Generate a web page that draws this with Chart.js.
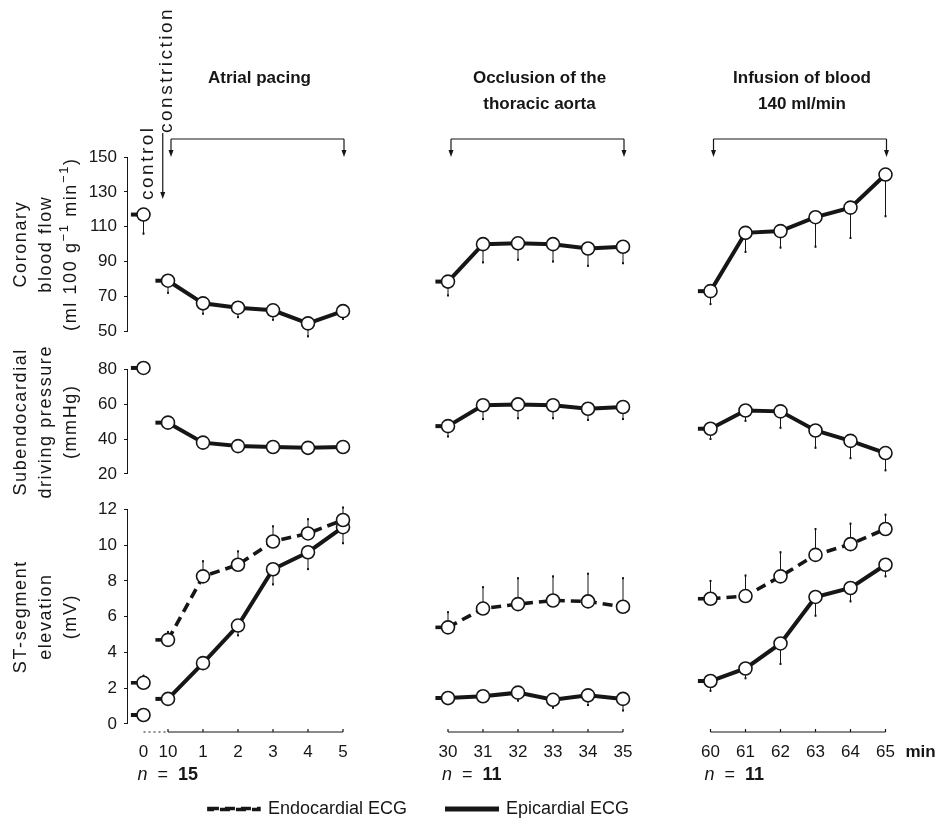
<!DOCTYPE html>
<html>
<head>
<meta charset="utf-8">
<title>Coronary flow, driving pressure and ST-segment elevation</title>
<script src="https://cdn.jsdelivr.net/npm/chart.js@4.4.1/dist/chart.umd.min.js"></script>
<style>
    html, body { margin: 0; padding: 0; background: #fff; }
    #wrap { width: 948px; height: 828px; }
</style>
</head>
<body>
<div id="wrap"><canvas id="figure" width="948" height="828"></canvas></div>
<script>
// x-axis tick labels (min); '0' is the control reading, '10' is 10 s after constriction
const controlLabel = '0';
const pacingLabels = ['10', '1', '2', '3', '4', '5'];
const occlusionLabels = ['30', '31', '32', '33', '34', '35'];
const infusionLabels = ['60', '61', '62', '63', '64', '65'];
const groupN = [15, 11, 11];
const groupTitles = [['Atrial pacing'], ['Occlusion of the', 'thoracic aorta'], ['Infusion of blood', '140 ml/min']];

// y tick labels
const flowTicks = [50, 70, 90, 110, 130, 150];
const pressTicks = [20, 40, 60, 80];
const stTicks = [0, 2, 4, 6, 8, 10, 12];

// Coronary blood flow (ml 100 g-1 min-1), mean and SD
const flowControl = 117;
const flowControlSd = 11.5;
const flowPacing = [79, 66, 63.5, 62, 54.5, 61.5];
const flowPacingSd = [7.5, 6.5, 6, 6, 8, 5];
const flowOcclusion = [78.5, 100, 100.5, 100, 97.5, 98.5];
const flowOcclusionSd = [8.5, 11, 10, 10.5, 10.5, 10];
const flowInfusion = [73, 106.5, 107.5, 115.5, 121, 140];
const flowInfusionSd = [8, 11.5, 10, 17.5, 18, 24.5];

// Subendocardial driving pressure (mmHg)
const pressControl = 81;
const pressControlSd = 3;
const pressPacing = [49.5, 38, 36, 35.5, 35, 35.5];
const pressPacingSd = [3, 3, 3, 2.5, 3, 2.5];
const pressOcclusion = [47.5, 59.5, 60, 59.5, 57.5, 58.5];
const pressOcclusionSd = [6.5, 8.5, 8.5, 8, 7, 7.5];
const pressInfusion = [46, 56.5, 56, 45, 39, 32];
const pressInfusionSd = [6.5, 6.5, 10, 10.5, 10.5, 10.5];

// ST-segment elevation (mV), endocardial ECG (SD drawn upwards)
const endoControl = 2.3;
const endoControlSd = 0.45;
const endoPacing = [4.7, 8.25, 8.9, 10.2, 10.65, 11.4];
const endoPacingSd = [0.5, 0.9, 0.8, 0.9, 0.85, 0.75];
const endoOcclusion = [5.4, 6.45, 6.7, 6.9, 6.85, 6.55];
const endoOcclusionSd = [0.9, 1.25, 1.5, 1.4, 1.6, 1.65];
const endoInfusion = [7.0, 7.15, 8.25, 9.45, 10.05, 10.9];
const endoInfusionSd = [1.05, 1.2, 1.4, 1.5, 1.2, 0.85];

// ST-segment elevation (mV), epicardial ECG (SD drawn downwards)
const epiControl = 0.5;
const epiControlSd = 0.3;
const epiPacing = [1.4, 3.4, 5.5, 8.65, 9.6, 11.0];
const epiPacingSd = [0.3, 0.3, 0.6, 0.9, 1.0, 0.95];
const epiOcclusion = [1.45, 1.55, 1.75, 1.35, 1.6, 1.4];
const epiOcclusionSd = [0.4, 0.3, 0.5, 0.5, 0.6, 0.7];
const epiInfusion = [2.4, 3.1, 4.5, 7.1, 7.6, 8.9];
const epiInfusionSd = [0.6, 0.6, 1.2, 1.1, 0.8, 0.7];

// y axis titles, one entry per line; '^' parts are superscripts
const flowTitle = [['Coronary'], ['blood flow'], ['(ml 100 g', '^\u22121', ' min', '^\u22121', ')']];
const pressTitle = [['Subendocardial'], ['driving pressure'], ['(mmHg)']];
const stTitle = [['ST-segment'], ['elevation'], ['(mV)']];

// layout of the broken time axis (in minute steps)
const controlPos = -0.7;
const groupStart = [0, 8, 15.5];
const groupLabels = [pacingLabels, occlusionLabels, infusionLabels];
const stubLength = 0.36;

const ink = '#161616';
const fontFamily = "'Liberation Sans', Arial, Helvetica, sans-serif";

// tick position -> label
const xTickLabel = new Map();
xTickLabel.set(controlPos, controlLabel);
groupLabels.forEach((labels, g) => labels.forEach((lab, i) => xTickLabel.set(groupStart[g] + i, lab)));

// one dataset per measured curve; null points break the line between groups
function buildSeries(ctrl, ctrlSd, groups, sds) {
    const data = [];
    const sd = [];
    data.push({x: controlPos, y: ctrl});
    sd.push(ctrlSd);
    groups.forEach((vals, g) => {
        data.push({x: groupStart[g] - 0.5, y: null});
        sd.push(null);
        vals.forEach((v, i) => {
            data.push({x: groupStart[g] + i, y: v});
            sd.push(sds[g][i]);
        });
    });
    return {data, sd};
}

const flow = buildSeries(flowControl, flowControlSd, [flowPacing, flowOcclusion, flowInfusion], [flowPacingSd, flowOcclusionSd, flowInfusionSd]);
const press = buildSeries(pressControl, pressControlSd, [pressPacing, pressOcclusion, pressInfusion], [pressPacingSd, pressOcclusionSd, pressInfusionSd]);
const endo = buildSeries(endoControl, endoControlSd, [endoPacing, endoOcclusion, endoInfusion], [endoPacingSd, endoOcclusionSd, endoInfusionSd]);
const epi = buildSeries(epiControl, epiControlSd, [epiPacing, epiOcclusion, epiInfusion], [epiPacingSd, epiOcclusionSd, epiInfusionSd]);

function lineStyle(extra) {
    return Object.assign({
        borderColor: ink,
        backgroundColor: '#fff',
        borderWidth: 4,
        tension: 0,
        spanGaps: false,
        pointRadius: 6.5,
        pointHoverRadius: 6.5,
        pointBorderWidth: 1.6,
        pointBackgroundColor: '#fff',
        pointBorderColor: ink
    }, extra);
}

function fixedTicks(values) {
    return function(scale) {
        scale.ticks = values.map(v => ({value: v}));
    };
}

function yAxis(ticks, min, max, weight, title) {
    return {
        type: 'linear',
        position: 'left',
        stack: 'panels',
        stackWeight: weight,
        min: min,
        max: max,
        panelTitle: title,
        afterBuildTicks: fixedTicks(ticks),
        afterFit: function(scale) { scale.width = 128; },
        border: {display: false},
        grid: {drawOnChartArea: false, drawTicks: true, tickLength: 4, color: ink, lineWidth: 1},
        ticks: {autoSkip: false, color: ink, padding: 7, font: {family: fontFamily, size: 17}}
    };
}

function arrowDown(ctx, x, y0, y1) {
    ctx.beginPath();
    ctx.moveTo(x, y0);
    ctx.lineTo(x, y1 - 5);
    ctx.stroke();
    ctx.beginPath();
    ctx.moveTo(x - 2.5, y1 - 7);
    ctx.lineTo(x + 2.5, y1 - 7);
    ctx.lineTo(x, y1);
    ctx.closePath();
    ctx.fill();
}

// draws one rotated title line made of plain and superscript parts, centred on (x, y)
function drawRotatedLine(ctx, parts, x, y) {
    const base = '18px ' + fontFamily;
    const sup = '13px ' + fontFamily;
    let total = 0;
    parts.forEach(p => {
        ctx.font = p[0] === '^' ? sup : base;
        total += ctx.measureText(p[0] === '^' ? p.slice(1) : p).width;
    });
    ctx.save();
    ctx.translate(x, y);
    ctx.rotate(-Math.PI / 2);
    let pos = -total / 2;
    parts.forEach(p => {
        const isSup = p[0] === '^';
        const text = isSup ? p.slice(1) : p;
        ctx.font = isSup ? sup : base;
        ctx.fillText(text, pos, isSup ? -7 : 0);
        pos += ctx.measureText(text).width;
    });
    ctx.restore();
}

// error bars, lead-in stubs, partial axis lines and the annotations
const figureExtras = {
    id: 'figureExtras',
    beforeDatasetsDraw(chart) {
        const ctx = chart.ctx;
        const xs = chart.scales.x;
        const bottom = chart.chartArea.bottom;
        ctx.save();
        ctx.strokeStyle = ink;
        ctx.fillStyle = ink;

        // y axis lines over the labelled range only, with the panel titles
        ['yFlow', 'yPress', 'yST'].forEach(id => {
            const s = chart.scales[id];
            const vals = s.ticks.map(t => t.value);
            const yTop = s.getPixelForValue(Math.max(...vals));
            const yBot = s.getPixelForValue(Math.min(...vals));
            ctx.lineWidth = 1;
            ctx.beginPath();
            ctx.moveTo(s.right - 0.5, yTop);
            ctx.lineTo(s.right - 0.5, yBot);
            ctx.stroke();

            ctx.textAlign = 'left';
            ctx.textBaseline = 'middle';
            ctx.letterSpacing = '1.6px';
            s.options.panelTitle.forEach((parts, k) => {
                drawRotatedLine(ctx, parts, 21 + k * 25, (yTop + yBot) / 2);
            });
            ctx.letterSpacing = '0px';
        });

        // broken x axis: dotted from control to 10 s, then one segment per group
        ctx.lineWidth = 1.2;
        ctx.setLineDash([2, 3]);
        ctx.beginPath();
        ctx.moveTo(xs.getPixelForValue(controlPos), bottom);
        ctx.lineTo(xs.getPixelForValue(groupStart[0]), bottom);
        ctx.stroke();
        ctx.setLineDash([]);
        groupLabels.forEach((labels, g) => {
            const a = xs.getPixelForValue(groupStart[g]);
            const b = xs.getPixelForValue(groupStart[g] + labels.length - 1);
            ctx.beginPath();
            ctx.moveTo(a, bottom);
            ctx.lineTo(b, bottom);
            ctx.stroke();
            labels.forEach((lab, i) => {
                const px = xs.getPixelForValue(groupStart[g] + i);
                ctx.beginPath();
                ctx.moveTo(px, bottom);
                ctx.lineTo(px, bottom - 3);
                ctx.stroke();
            });
        });

        // error bars and short lead-in lines before each run
        chart.data.datasets.forEach((ds, i) => {
            const meta = chart.getDatasetMeta(i);
            const ys = chart.scales[ds.yAxisID];
            meta.data.forEach((pt, j) => {
                const raw = ds.data[j];
                if (raw.y == null) return;
                const sd = ds.sd[j];
                if (sd) {
                    const end = ys.getPixelForValue(raw.y + ds.sdDir * sd);
                    ctx.lineWidth = 1;
                    ctx.beginPath();
                    ctx.moveTo(pt.x, pt.y);
                    ctx.lineTo(pt.x, end);
                    ctx.stroke();
                    ctx.lineWidth = 2;
                    ctx.beginPath();
                    ctx.moveTo(pt.x, end);
                    ctx.lineTo(pt.x, end + (ds.sdDir > 0 ? 2 : -2));
                    ctx.stroke();
                }
                if (j === 0 || ds.data[j - 1].y == null) {
                    ctx.lineWidth = ds.borderWidth;
                    ctx.beginPath();
                    ctx.moveTo(xs.getPixelForValue(raw.x - stubLength), pt.y);
                    ctx.lineTo(pt.x, pt.y);
                    ctx.stroke();
                }
            });
        });
        ctx.restore();
    },
    afterDraw(chart) {
        const ctx = chart.ctx;
        const xs = chart.scales.x;
        const top = chart.chartArea.top;
        const bottom = chart.chartArea.bottom;
        ctx.save();
        ctx.strokeStyle = ink;
        ctx.fillStyle = ink;
        ctx.lineWidth = 1.2;

        // intervention brackets and their titles
        groupLabels.forEach((labels, g) => {
            const a = xs.getPixelForValue(groupStart[g]) + 3;
            const b = xs.getPixelForValue(groupStart[g] + labels.length - 1) + 1;
            const yb = top - 11;
            ctx.beginPath();
            ctx.moveTo(a, yb);
            ctx.lineTo(b, yb);
            ctx.stroke();
            arrowDown(ctx, a, yb, top + 7);
            arrowDown(ctx, b, yb, top + 7);
            ctx.font = 'bold 17px ' + fontFamily;
            ctx.textAlign = 'center';
            ctx.textBaseline = 'middle';
            groupTitles[g].forEach((line, k) => {
                ctx.fillText(line, (a + b) / 2 + 2, top - 72 + k * 26);
            });
        });

        // constriction marker and control label
        const cx = xs.getPixelForValue(-0.15);
        arrowDown(ctx, cx, top - 17, top + 49);
        ctx.font = '19px ' + fontFamily;
        ctx.letterSpacing = '2.5px';
        ctx.textAlign = 'left';
        ctx.textBaseline = 'middle';
        ctx.save();
        ctx.translate(cx + 4, top - 17);
        ctx.rotate(-Math.PI / 2);
        ctx.fillText('constriction', 0, 0);
        ctx.restore();
        ctx.save();
        ctx.translate(xs.getPixelForValue(controlPos) + 4, top + 50);
        ctx.rotate(-Math.PI / 2);
        ctx.fillText('control', 0, 0);
        ctx.restore();
        ctx.letterSpacing = '0px';

        // unit after the last tick and the group sizes
        ctx.font = 'bold 17px ' + fontFamily;
        ctx.textBaseline = 'middle';
        ctx.fillText('min', xs.getPixelForValue(groupStart[2] + infusionLabels.length - 1) + 20, bottom + 20);
        groupN.forEach((n, g) => {
            const start = g === 0 ? xs.getPixelForValue(controlPos) : xs.getPixelForValue(groupStart[g]);
            let px = start - 6;
            const py = bottom + 43;
            ctx.font = 'italic 18px ' + fontFamily;
            ctx.fillText('n', px, py);
            px += ctx.measureText('n').width;
            ctx.font = '18px ' + fontFamily;
            ctx.fillText('  =  ', px, py);
            px += ctx.measureText('  =  ').width;
            ctx.font = 'bold 18px ' + fontFamily;
            ctx.fillText(String(n), px, py);
        });
        ctx.restore();
    }
};

new Chart(document.getElementById('figure').getContext('2d'), {
    type: 'line',
    data: {
        datasets: [
            lineStyle({label: 'Coronary blood flow', data: flow.data, sd: flow.sd, sdDir: -1, yAxisID: 'yFlow'}),
            lineStyle({label: 'Subendocardial driving pressure', data: press.data, sd: press.sd, sdDir: -1, yAxisID: 'yPress'}),
            lineStyle({label: 'Endocardial ECG', data: endo.data, sd: endo.sd, sdDir: 1, yAxisID: 'yST', borderDash: [10, 6], borderWidth: 3.6}),
            lineStyle({label: 'Epicardial ECG', data: epi.data, sd: epi.sd, sdDir: -1, yAxisID: 'yST'})
        ]
    },
    options: {
        responsive: false,
        devicePixelRatio: 1,
        animation: false,
        events: [],
        layout: {padding: {top: 150, left: 0, right: 45, bottom: 0}},
        scales: {
            x: {
                type: 'linear',
                min: -1.143,
                max: 21.0,
                afterBuildTicks: fixedTicks([...xTickLabel.keys()]),
                afterFit: function(scale) { scale.height = 58; },
                border: {display: false},
                grid: {display: false, drawTicks: false},
                ticks: {
                    autoSkip: false,
                    maxRotation: 0,
                    padding: 10,
                    color: ink,
                    font: {family: fontFamily, size: 17},
                    callback: function(value) { return xTickLabel.get(value) || ''; }
                }
            },
            // the last stacked axis sits at the top
            yST: yAxis(stTicks, -0.45, 12.96, 237, stTitle),
            yPress: yAxis(pressTicks, 9.5, 91.1, 140, pressTitle),
            yFlow: yAxis(flowTicks, 38.95, 154.1, 198, flowTitle)
        },
        plugins: {
            tooltip: {enabled: false},
            legend: {
                position: 'bottom',
                labels: {
                    color: ink,
                    boxWidth: 50,
                    boxHeight: 1,
                    padding: 10,
                    font: {family: fontFamily, size: 18},
                    generateLabels: function(chart) {
                        const items = Chart.defaults.plugins.legend.labels.generateLabels(chart)
                            .filter(item => item.datasetIndex >= 2);
                        // widen the gap between the two entries and pull the pair left
                        items[0].text += '\u00A0'.repeat(6);
                        items[1].text += '\u00A0'.repeat(13);
                        return items;
                    }
                }
            }
        }
    },
    plugins: [figureExtras]
});
</script>
</body>
</html>
